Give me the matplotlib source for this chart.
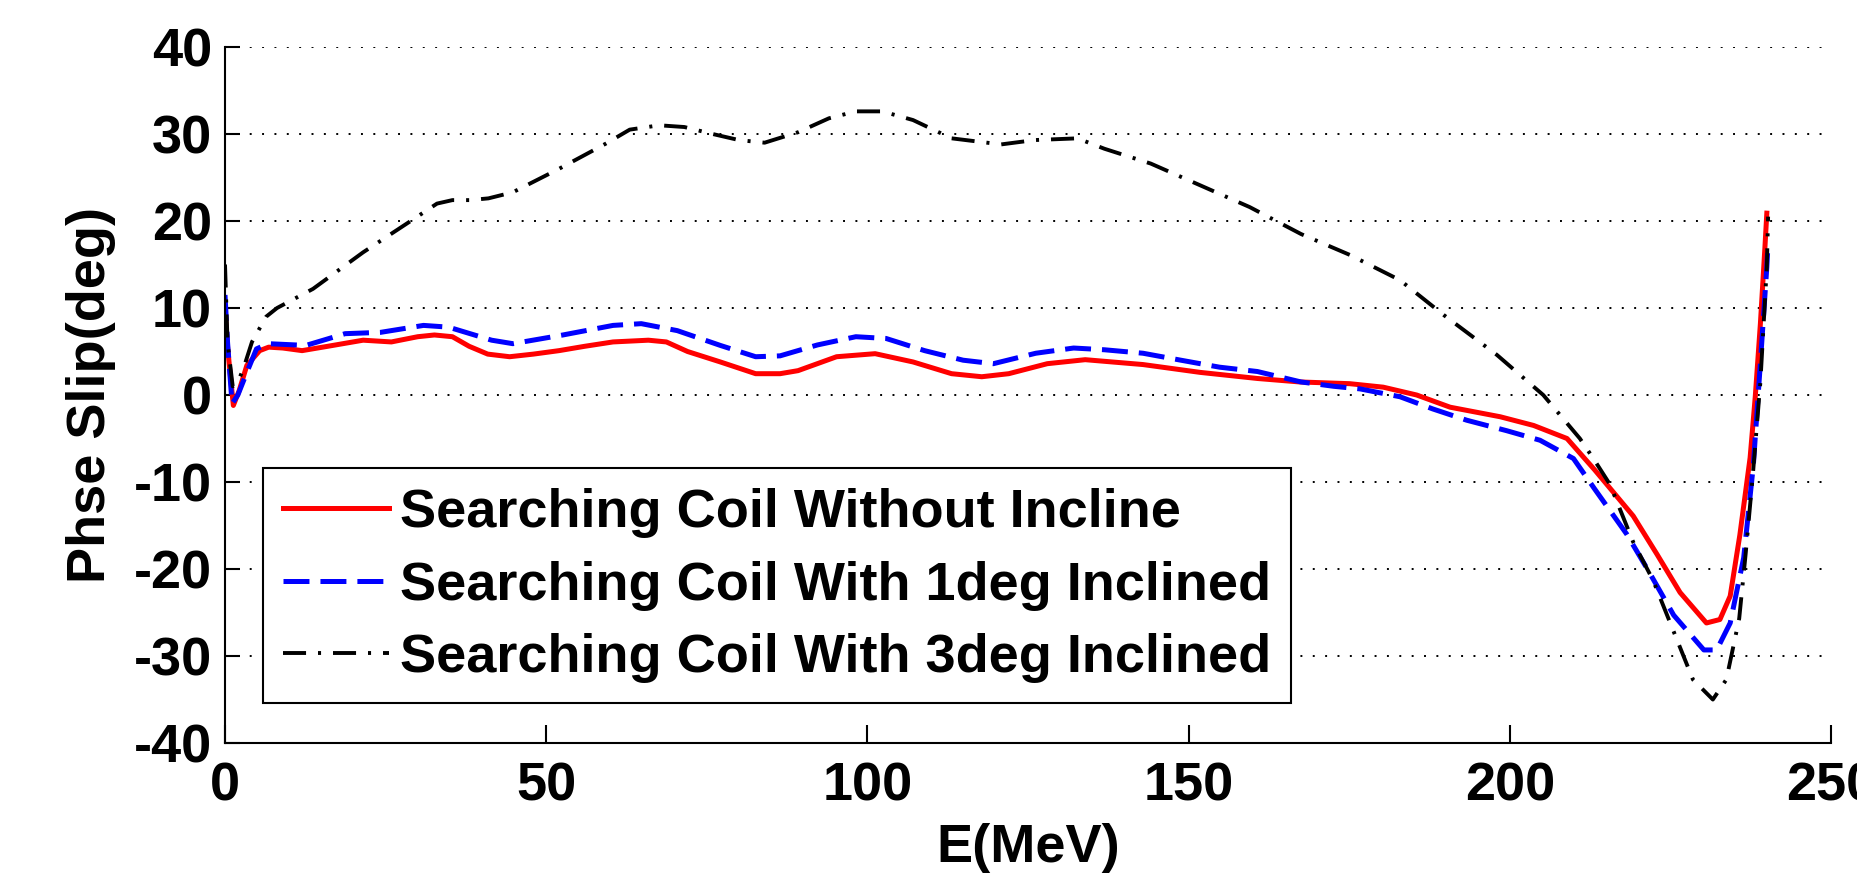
import matplotlib
matplotlib.use("Agg")
import matplotlib.pyplot as plt

# fontes
plt.rcParams['font.family'] = ['Liberation Sans', 'DejaVu Sans']
plt.rcParams['font.weight'] = 'bold'
plt.rcParams['lines.scale_dashes'] = False
plt.rcParams['axes.unicode_minus'] = False

fonte_labels = {"fontsize": 39, "fontweight": 'bold'}

# dados
E_sem = [0, 0.4, 1.3, 2.2, 3.4, 5.4, 6.8, 9, 12, 16, 21.5, 25.9, 30, 32.6, 35.4, 38,
         40.9, 44.3, 48, 52, 56, 60.4, 65.9, 68.7, 72, 77.1, 82.6, 86.4, 89.2, 95.2,
         101.2, 107.1, 113.1, 117.8, 122, 128, 133.9, 142.9, 151.8, 160.7, 167.3,
         175.1, 180.3, 185.5, 190.7, 198.5, 203.7, 208.9, 213.2, 219.2, 222.9, 226.5,
         230.6, 232.7, 234.3, 235.8, 237.4, 238.2, 239, 239.7, 240]
fase_sem = [10, 5.5, -1.2, 0.5, 3.4, 5.1, 5.5, 5.4, 5.1, 5.6, 6.3, 6.1, 6.7, 6.9, 6.7, 5.6,
            4.7, 4.4, 4.7, 5.1, 5.6, 6.1, 6.3, 6.1, 5.0, 3.8, 2.45, 2.45, 2.8, 4.4,
            4.75, 3.8, 2.45, 2.1, 2.45, 3.6, 4.06, 3.5, 2.6, 1.9, 1.5,
            1.3, 0.9, 0, -1.4, -2.5, -3.5, -5, -8.6, -13.9, -18.3, -22.7,
            -26.2, -25.8, -23.1, -16.1, -7.2, -0.2, 8.2, 16.9, 20.9]

E_1deg = [0, 0.4, 1.1, 2.0, 3.4, 4.9, 6.7, 12.6, 18.7, 24.2, 30.9, 34.8, 41.5, 44.8,
          52.6, 60.4, 64.8, 70.4, 77.1, 82.6, 86.4, 92.2, 98.2, 102.9, 108.9, 114.9,
          119.6, 126.2, 132.1, 136.9, 142.9, 148.8, 154.8, 160.7, 167.5, 172.6, 176.7,
          182.9, 188, 193.3, 199.5, 204.7, 209.9, 213.2, 218.2, 221.8, 225.5, 230.2,
          232.2, 234.3, 236.4, 237.9, 239, 240, 240.2]
fase_1deg = [11.5, 6, -1.0, 0, 2.6, 5.3, 5.9, 5.7, 7.05, 7.2, 8.0, 7.8, 6.3, 5.9,
             6.9, 8.0, 8.2, 7.4, 5.7, 4.4, 4.5, 5.75, 6.7, 6.5, 5.1, 4.0,
             3.6, 4.8, 5.4, 5.2, 4.8, 4.0, 3.2, 2.7, 1.5, 1.0, 0.7,
             -0.2, -1.6, -2.9, -4.1, -5.2, -7.3, -10.8, -16, -20.5, -25.3, -29.3,
             -29.3, -26.2, -18.7, -8.1, 3.7, 14.7, 17.5]

E_3deg = [0, 0.4, 1.2, 2.0, 2.85, 4.2, 6.4, 8.1, 13.7, 21.5, 28.7, 33, 35.4, 38.1, 41,
          44.8, 52, 59.3, 63, 67.6, 71.5, 75.9, 80, 84, 89.2, 94, 98.2, 102.3, 107.1,
          113.1, 120.8, 126, 132.7, 136.9, 144.1, 151.8, 159.5, 167.5, 175.1, 182.9,
          189.7, 198, 205.2, 210.9, 213, 215.6, 219.2, 222.3, 225.4, 228.5, 231.6,
          233.7, 235.7, 236.7, 237.8, 239, 240, 240.2]
fase_3deg = [15, 6, 1.0, 1.5, 3.0, 6.1, 9.0, 10, 12.2, 16.4, 19.9, 22, 22.4, 22.4, 22.6,
             23.3, 26, 28.9, 30.5, 31, 30.8, 30, 29.3, 29, 30.2, 31.8, 32.6, 32.6, 31.6,
             29.5, 28.8, 29.3, 29.5, 28.3, 26.6, 24.1, 21.6, 18.5, 16.1, 13.2,
             9.2, 4.6, 0, -5, -7.3, -10.3, -16.9, -21.3, -27, -32.7, -35,
             -32.7, -25.7, -18.3, -9.4, 1.5, 14.7, 20.5]

legendas = ["Searching Coil Without Incline",
            "Searching Coil With 1deg Inclined",
            "Searching Coil With 3deg Inclined"]

fig = plt.figure(figsize=(18.58, 8.83), dpi=100)
ax = fig.add_axes([0.1211, 0.1585, 0.8644, 0.7883])

ax.plot(E_sem, fase_sem, color='#ff0000', lw=3.6, label=legendas[0])
ax.plot(E_1deg, fase_1deg, color='#0000ff', lw=3.6, linestyle=(0, (18.7, 7.9)),
        label=legendas[1])
ax.plot(E_3deg, fase_3deg, color='black', lw=2.8,
        linestyle=(0, (16.6, 8.6, 2.2, 8.6)), label=legendas[2])

ax.set_xlim(0, 250)
ax.set_ylim(-40, 40)
ax.set_xticks(range(0, 251, 50))
ax.set_yticks(range(-40, 41, 10))

ax.grid(axis='y', color='black', lw=1.4, linestyle=(0, (1.4, 7.5)))
ax.set_axisbelow(True)

for lado in ['top', 'right']:
    ax.spines[lado].set_visible(False)
for lado in ['left', 'bottom']:
    ax.spines[lado].set_linewidth(1.5)

ax.tick_params(axis='both', direction='in', width=1.5, labelsize=39, colors='black')
ax.tick_params(axis='x', length=13, pad=13.5)
ax.tick_params(axis='y', length=11, pad=9.4)

ax.set_xlabel("E(MeV)", fontdict=fonte_labels, labelpad=8)
ax.set_ylabel("Phse Slip(deg)", fontdict=fonte_labels, labelpad=13)

leg = ax.legend(loc='lower left', bbox_to_anchor=(0.0237, 0.057), borderaxespad=0,
                prop={'size': 39, 'weight': 'bold'}, handlelength=1.96,
                handletextpad=0.2, borderpad=0.37, labelspacing=0.42,
                fancybox=False, framealpha=1, edgecolor='black')
leg.get_frame().set_linewidth(1.5)

fig.savefig("out.png", dpi=100)
